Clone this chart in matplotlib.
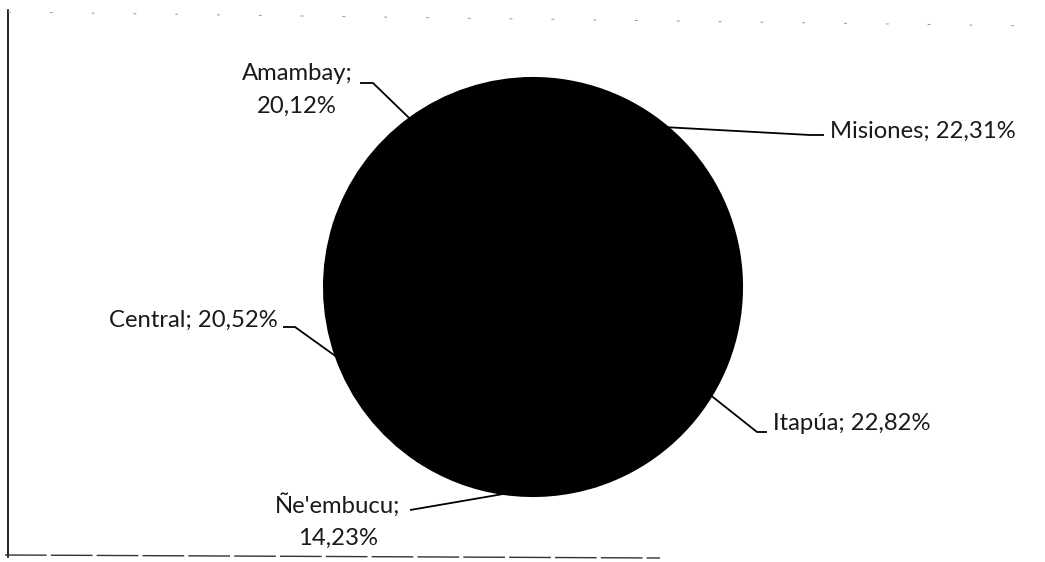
import numpy as np
import matplotlib
matplotlib.use("Agg")
import matplotlib.pyplot as plt

# ---- data ----
departments = ["Misiones", "Itapúa", "Ñe'embucu", "Central", "Amambay"]
shares = [22.31, 22.82, 14.23, 20.52, 20.12]
share_labels = ["22,31%", "22,82%", "14,23%", "20,52%", "20,12%"]

W, H = 1045, 562
fig = plt.figure(figsize=(W / 100, H / 100), dpi=100)
ax = fig.add_axes([0, 0, 1, 1])

def Y(y):
    return H - y

cx, cy, r = 533, 287, 209
wedges, _ = ax.pie(shares, center=(cx, Y(cy)), radius=r, startangle=90,
                   counterclock=False, colors=["black"] * len(shares),
                   wedgeprops=dict(edgecolor="black", linewidth=1.5))
ax.set_xlim(0, W)
ax.set_ylim(0, H)
ax.set_aspect("equal")
ax.axis("off")

FONT = dict(family="Lato", size=17.2, color="#1a1a1a")

# layout for each label: text anchor, alignment, leader path (points before edge)
layout = {
    "Misiones": dict(xy=(830, 131), ha="left", two=False, path=[(824, 135), (810, 135)]),
    "Itapúa": dict(xy=(773, 424), ha="left", two=False, path=[(767, 432), (757, 432)]),
    "Ñe'embucu": dict(xy=(338, 505), ha="center", two=True, path=[(410, 510), (416, 509)]),
    "Central": dict(xy=(278, 320), ha="right", two=False, path=[(283, 327), (295, 327)]),
    "Amambay": dict(xy=(297, 73), ha="center", two=True, path=[(360, 83), (373, 83)]),
}

for w, name, lab in zip(wedges, departments, share_labels):
    L = layout[name]
    mid = np.deg2rad((w.theta1 + w.theta2) / 2)
    ex = w.center[0] + w.r * np.cos(mid)
    ey = w.center[1] + w.r * np.sin(mid)
    xs = [p[0] for p in L["path"]] + [ex]
    ys = [Y(p[1]) for p in L["path"]] + [ey]
    ax.plot(xs, ys, color="black", lw=1.3, solid_capstyle="butt")
    tx, ty = L["xy"]
    if L["two"]:
        ax.text(tx, Y(ty), f"{name};", ha="center", va="center", **FONT)
        ax.text(tx, Y(ty + 33), lab, ha="center", va="center", **FONT)
    else:
        ax.text(tx, Y(ty), f"{name}; {lab}", ha=L["ha"], va="center", **FONT)

# scanned frame remnants
ax.plot([8, 8], [Y(10), Y(557)], color="black", lw=1.2)
ax.plot([5, 660], [Y(555), Y(558)], color="#333333", lw=1.0, ls=(0, (30, 3)))
ax.plot([8, 1040], [Y(12), Y(26)], color="#999999", lw=0.7, ls=(0, (3, 40)))

fig.savefig("out.png", dpi=100, facecolor="white")
